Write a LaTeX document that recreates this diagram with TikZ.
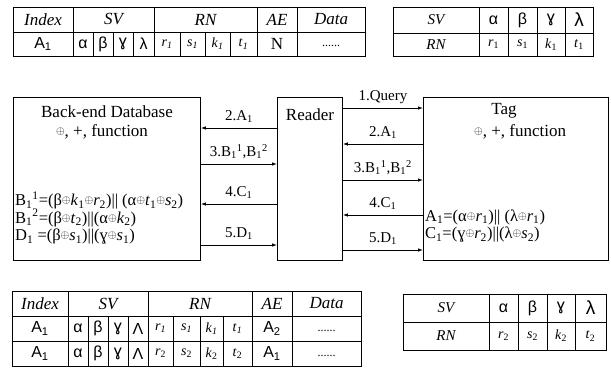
\documentclass[tikz,border=0pt]{standalone}
\usepackage{fontspec}
\setmainfont{Liberation Serif}
\newfontfamily\gsans{Liberation Sans}
\usepackage{graphicx}
\usetikzlibrary{arrows.meta}
\newcommand{\opl}{\raisebox{0.25ex}{\scalebox{0.65}{$\oplus$}}}
\newcommand{\sbs}[1]{\textsubscript{#1}}
\newcommand{\sps}[1]{\textsuperscript{#1}}
\newcommand{\va}[2]{\textit{#1}\textsubscript{\textit{#2}}}
\tikzset{
  tline/.style={line width=0.8pt},
  boxst/.style={draw, line width=0.9pt, anchor=north west, inner sep=0pt, minimum height=163pt},
  hd/.style={font=\fontsize{17}{17}\selectfont\itshape, inner sep=0pt},
  hdr/.style={font=\fontsize{15}{15}\selectfont\itshape, inner sep=0pt},
  cl/.style={font=\fontsize{17}{17}\selectfont, inner sep=0pt},
  gk/.style={font=\fontsize{16}{16}\selectfont\gsans, inner sep=0pt},
  rn/.style={font=\fontsize{14}{14}\selectfont, inner sep=0pt},
  dots/.style={font=\fontsize{12}{12}\selectfont, inner sep=0pt},
  txt/.style={font=\fontsize{17}{17}\selectfont, inner sep=0pt},
  frm/.style={font=\fontsize{16.5}{17.5}\selectfont, inner sep=0pt, anchor=west, align=left},
  lab/.style={font=\fontsize{15}{15}\selectfont, inner sep=0pt},
  arr/.style={line width=0.8pt, -{Latex[length=5pt,width=3.5pt]}}
}
\begin{document}
\begin{tikzpicture}[x=1pt,y=-1pt]
\useasboundingbox (0,0) rectangle (611,369);
% ---------- top-left table
\draw[tline] (13,7) rectangle (365,56);
\draw[tline] (13,32) -- (365,32);
\foreach \x in {73,154,257,297} \draw[tline] (\x,7) -- (\x,56);
\foreach \x in {93,113,133,180,205,230} \draw[tline] (\x,32) -- (\x,56);
\node[hd] (ta1) at (43,19.5) {Index};
\node[hd] (ta2) at (113.5,19.5) {SV};
\node[hd] (ta3) at (205.5,19.5) {RN};
\node[hd] (ta4) at (277,19.5) {AE};
\node[hd] (ta5) at (331,19.5) {Data};
\node[gk] (tb1) at (43,44) {A\sbs{1}};
\node[gk] (tb2) at (83,44) {α};
\node[gk] (tb3) at (103,44) {β};
\node[gk] (tb4) at (123,44) {ɣ};
\node[gk] (tb5) at (143.5,44) {λ};
\node[rn] (tb6) at (167,44) {\va{r}{1}};
\node[rn] (tb7) at (192.5,44) {\va{s}{1}};
\node[rn] (tb8) at (217.5,44) {\va{k}{1}};
\node[rn] (tb9) at (243.5,44) {\va{t}{1}};
\node[cl] (tb10) at (277,44) {N};
\node[dots] (tb11) at (331,46) {......};
% ---------- top-right table
\draw[tline] (393,7) rectangle (593,56);
\draw[tline] (393,33) -- (593,33);
\foreach \x in {479,508,537,565} \draw[tline] (\x,7) -- (\x,56);
\node[hdr] (tc1) at (436,20) {SV};
\node[gk] (tc2) at (493.5,20) {α};
\node[gk] (tc3) at (522.5,20) {β};
\node[gk] (tc4) at (551,20) {ɣ};
\node[gk, font=\fontsize{19}{19}\selectfont\gsans] (tc5) at (579,20) {λ};
\node[hdr] (td1) at (436,44.5) {RN};
\node[rn] (td2) at (493.5,44.5) {\textit{r}\sbs{1}};
\node[rn] (td3) at (522.5,44.5) {\textit{s}\sbs{1}};
\node[rn] (td4) at (551,44.5) {\textit{k}\sbs{1}};
\node[rn] (td5) at (579,44.5) {\textit{t}\sbs{1}};
% ---------- boxes
\node[boxst, minimum width=187pt] (db) at (13,97) {};
\node[boxst, minimum width=65pt] (rd) at (277,97) {};
\node[boxst, minimum width=185pt] (tg) at (423,97) {};
\node[txt] (dbt) at (107,112) {Back-end Database};
\node[txt] (dbf) at (102,132) {\opl, +, function};
\node[txt] (rdt) at (310,115) {Reader};
\node[txt] (tgt) at (504,111) {Tag};
\node[txt] (tgf) at (520,132) {\opl, +, function};
\node[frm] (fdb) at (15,218) {B\sbs{1}\sps{1}=(β\opl\textit{k}\sbs{1}\opl\textit{r}\sbs{2})|| (α\opl\textit{t}\sbs{1}\opl\textit{s}\sbs{2})\\
B\sbs{1}\sps{2}=(β\opl\textit{t}\sbs{2})||(α\opl\textit{k}\sbs{2})\\
D\sbs{1} =(β\opl\textit{s}\sbs{1})||(ɣ\opl\textit{s}\sbs{1})};
\node[frm] (ftg) at (425,226) {A\sbs{1}=(α\opl\textit{r}\sbs{1})|| (λ\opl\textit{r}\sbs{1})\\
C\sbs{1}=(ɣ\opl\textit{r}\sbs{2})||(λ\opl\textit{s}\sbs{2})};
% ---------- arrows left
\coordinate (yl1) at (0,128);
\coordinate (yl2) at (0,164);
\coordinate (yl3) at (0,204);
\coordinate (yl4) at (0,245);
\draw[arr] (rd.west |- yl1) -- (db.east |- yl1) node[lab, midway, above=5pt] (l1) {2.A\sbs{1}};
\draw[arr] (db.east |- yl2) -- (rd.west |- yl2) node[lab, midway, above=5pt] (l2) {3.B\sbs{1}\sps{1},B\sbs{1}\sps{2}};
\draw[arr] (rd.west |- yl3) -- (db.east |- yl3) node[lab, midway, above=5pt] (l3) {4.C\sbs{1}};
\draw[arr] (db.east |- yl4) -- (rd.west |- yl4) node[lab, midway, above=5pt] (l4) {5.D\sbs{1}};
% ---------- arrows right
\coordinate (yr1) at (0,108);
\coordinate (yr2) at (0,144);
\coordinate (yr3) at (0,180);
\coordinate (yr4) at (0,215);
\coordinate (yr5) at (0,250);
\draw[arr] (rd.east |- yr1) -- (tg.west |- yr1) node[lab, midway, above=4pt] (r1) {1.Query};
\draw[arr] (tg.west |- yr2) -- (rd.east |- yr2) node[lab, midway, above=5pt] (r2) {2.A\sbs{1}};
\draw[arr] (rd.east |- yr3) -- (tg.west |- yr3) node[lab, midway, above=5pt] (r3) {3.B\sbs{1}\sps{1},B\sbs{1}\sps{2}};
\draw[arr] (tg.west |- yr4) -- (rd.east |- yr4) node[lab, midway, above=5pt] (r4) {4.C\sbs{1}};
\draw[arr] (rd.east |- yr5) -- (tg.west |- yr5) node[lab, midway, above=5pt] (r5) {5.D\sbs{1}};
% ---------- bottom-left table
\draw[tline] (12,291) rectangle (361,366);
\draw[tline] (12,316) -- (361,316);
\draw[tline] (12,341) -- (361,341);
\foreach \x in {68,148,252,292} \draw[tline] (\x,291) -- (\x,366);
\foreach \x in {88,108,128,173,200,223} \draw[tline] (\x,316) -- (\x,366);
\node[hd] (te1) at (40,303.5) {Index};
\node[hd] (te2) at (108,303.5) {SV};
\node[hd] (te3) at (200,303.5) {RN};
\node[hd] (te4) at (272,303.5) {AE};
\node[hd] (te5) at (326.5,303.5) {Data};
\node[gk] (tf1) at (40,328.5) {A\sbs{1}};
\node[gk] (tf2) at (78,328.5) {α};
\node[gk] (tf3) at (98,328.5) {β};
\node[gk] (tf4) at (118,328.5) {ɣ};
\node[gk] (tf5) at (138,328.5) {Λ};
\node[rn] (tf6) at (160.5,328.5) {\va{r}{1}};
\node[rn] (tf7) at (186.5,328.5) {\va{s}{1}};
\node[rn] (tf8) at (211.5,328.5) {\va{k}{1}};
\node[rn] (tf9) at (237.5,328.5) {\va{t}{1}};
\node[gk] (tf10) at (272,328.5) {A\sbs{2}};
\node[dots] (tf11) at (326.5,330.5) {......};
\node[gk] (tg1) at (40,353.5) {A\sbs{1}};
\node[gk] (tg2) at (78,353.5) {α};
\node[gk] (tg3) at (98,353.5) {β};
\node[gk] (tg4) at (118,353.5) {ɣ};
\node[gk] (tg5) at (138,353.5) {Λ};
\node[rn] (tg6) at (160.5,353.5) {\textit{r}\sbs{2}};
\node[rn] (tg7) at (186.5,353.5) {\textit{s}\sbs{2}};
\node[rn] (tg8) at (211.5,353.5) {\textit{k}\sbs{2}};
\node[rn] (tg9) at (237.5,353.5) {\textit{t}\sbs{2}};
\node[gk] (tg10) at (272,353.5) {A\sbs{1}};
\node[dots] (tg11) at (326.5,355.5) {......};
% ---------- bottom-right table
\draw[tline] (403,294) rectangle (606,350);
\draw[tline] (403,322) -- (606,322);
\foreach \x in {489,518,547,575} \draw[tline] (\x,294) -- (\x,350);
\node[hdr] (th1) at (446,308) {SV};
\node[gk] (th2) at (503.5,308) {α};
\node[gk] (th3) at (532.5,308) {β};
\node[gk] (th4) at (561,308) {ɣ};
\node[gk, font=\fontsize{19}{19}\selectfont\gsans] (th5) at (590.5,308) {λ};
\node[hdr] (ti1) at (446,336) {RN};
\node[rn] (ti2) at (503.5,336) {\textit{r}\sbs{2}};
\node[rn] (ti3) at (532.5,336) {\textit{s}\sbs{2}};
\node[rn] (ti4) at (561,336) {\textit{k}\sbs{2}};
\node[rn] (ti5) at (590.5,336) {\textit{t}\sbs{2}};
\end{tikzpicture}
\end{document}
